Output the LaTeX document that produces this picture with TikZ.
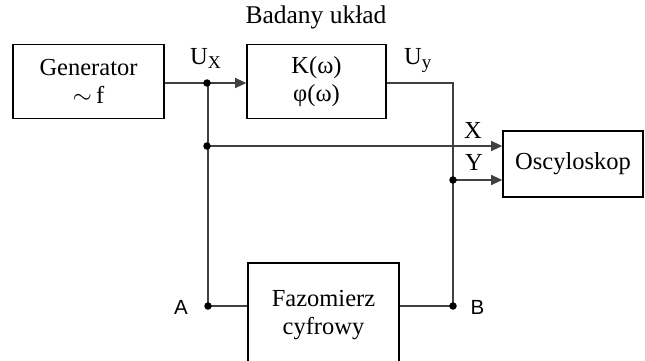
\documentclass[tikz,border=0pt]{standalone}
\usepackage{fontspec}
\setmainfont{Liberation Serif}
\newfontfamily\abfont{Liberation Sans}
\usetikzlibrary{arrows.meta,calc}
\begin{document}
\begin{tikzpicture}[x=1pt,y=-1pt,
  blk/.style={draw=black,line width=1.6pt,rectangle,inner sep=0pt,align=center,font=\fontsize{24.5}{27.5}\selectfont},
  wire/.style={draw=black!75,line width=1.1pt},
  arr/.style={wire,-{Triangle[length=11pt,width=10pt]}},
  lbl/.style={inner sep=0pt,font=\fontsize{24.5}{26}\selectfont},
  sanslbl/.style={inner sep=0pt,font=\abfont\fontsize{20.5}{21}\selectfont},
  dotn/.style={circle,fill=black,inner sep=0pt,minimum size=7.5pt}]
\useasboundingbox (0,0) rectangle (645,361);
\clip (0,0) rectangle (645,361);
\node[blk,minimum width=151pt,minimum height=74pt] (gen) at (88.5,81.5) {Generator\\$\sim$\,f};
\node[blk,minimum width=139pt,minimum height=74pt] (k) at (316.5,81.5) {K(ω)\\φ(ω)};
\node[blk,minimum width=140pt,minimum height=66pt] (osc) at (573,164) {Oscyloskop};
\node[blk,minimum width=151pt,minimum height=104pt] (faz) at (323.5,315) {Fazomierz\\cyfrowy};
\node[lbl,font=\fontsize{25.5}{26}\selectfont] (title) at (316,17) {Badany układ};
\coordinate (jx) at (207,83);
\coordinate (jxx) at (207,146);
\coordinate (cy) at (453,83);
\coordinate (jy) at (453,180);
\coordinate (a) at (208,306);
\coordinate (b) at (453,306);
\draw[wire] (gen.east |- jx) -- (jx);
\draw[arr] (jx) -- (k.west |- jx);
\draw[wire] (jx) -- (a |- jx) -- (a);
\draw[arr] (jxx) -- (osc.west |- jxx);
\draw[wire] (k.east |- cy) -- (cy) -- (b);
\draw[arr] (jy) -- (osc.west |- jy);
\draw[wire] (a) -- (faz.west |- a);
\draw[wire] (faz.east |- b) -- (b);
\node[dotn] (d1) at (jx) {};
\node[dotn] (d2) at (jxx) {};
\node[dotn] (d3) at (jy) {};
\node[dotn] (da) at (a) {};
\node[dotn] (db) at (b) {};
\node[lbl,anchor=base west] (ux) at (190,65) {U\raisebox{-4pt}{\fontsize{18}{18}\selectfont X}};
\node[lbl,anchor=base west] (uy) at (404,65) {U\raisebox{-4pt}{\fontsize{19}{19}\selectfont y}};
\node[lbl] (lx) at (473,130) {X};
\node[lbl] (ly) at (474,162) {Y};
\node[sanslbl] (la) at (181,307.5) {A};
\node[sanslbl] (lb) at (477.5,307.5) {B};
\end{tikzpicture}
\end{document}
